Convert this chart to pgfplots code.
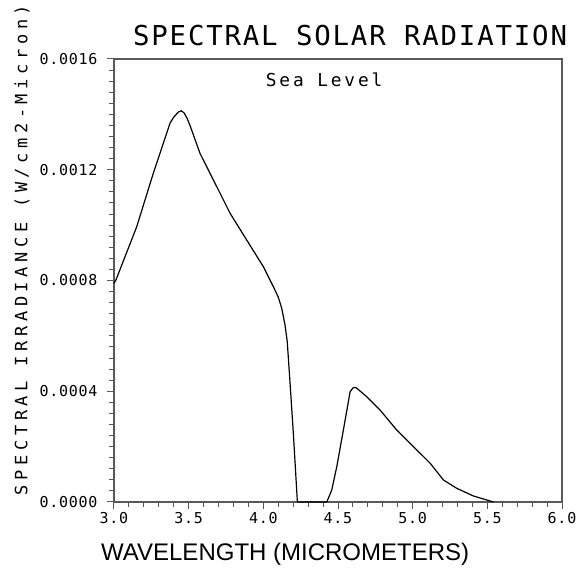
\documentclass[border=0pt]{standalone}
\usepackage{fontspec}
\setmainfont{Liberation Sans}
\newfontfamily\hfont[LetterSpace=6.6]{DejaVu Sans Mono}
\newfontfamily\tickfont[LetterSpace=5]{DejaVu Sans Mono}
\newfontfamily\seafont[LetterSpace=16]{DejaVu Sans Mono}
\newfontfamily\ylabfont[LetterSpace=27]{DejaVu Sans Mono}
\usepackage{pgfplots}
\pgfplotsset{compat=1.18}
\begin{document}
\begin{tikzpicture}
\begin{axis}[
  scale only axis,
  width=448pt, height=443pt,
  xmin=3, xmax=6, ymin=0, ymax=0.0016,
  xtick={3,3.5,4,4.5,5,5.5,6},
  xticklabels={3.0,3.5,4.0,4.5,5.0,5.5,6.0},
  ytick={0,0.0004,0.0008,0.0012,0.0016},
  yticklabels={0.0000,0.0004,0.0008,0.0012,0.0016},
  scaled y ticks=false,
  minor x tick num=4,
  minor y tick num=9,
  xtick pos=bottom, ytick pos=left,
  tick align=outside,
  major tick length=7pt, minor tick length=5pt,
  axis line style={draw=black!65, line width=1.2pt},
  every tick/.style={draw=black!65, line width=1pt},
  xticklabel style={font=\tickfont\fontsize{15}{16}\selectfont},
  yticklabel style={font=\tickfont\fontsize{15}{16}\selectfont, xshift=-6pt},
  clip=false,
]
\addplot[black, line width=1.2pt] coordinates {
(3.000,0.000790) (3.013,0.000802) (3.152,0.000994) (3.263,0.001187)
(3.375,0.001368) (3.400,0.001390) (3.430,0.001408) (3.450,0.001413)
(3.470,0.001405) (3.490,0.001385) (3.509,0.001360) (3.576,0.001259)
(3.688,0.001139) (3.777,0.001043) (3.889,0.000946) (4.000,0.000850)
(4.067,0.000778) (4.100,0.000740) (4.123,0.000700) (4.145,0.000640)
(4.160,0.000580) (4.179,0.000429) (4.201,0.000248) (4.228,0.000000)
(4.425,0.000000) (4.458,0.000043) (4.492,0.000128) (4.536,0.000260)
(4.581,0.000398) (4.600,0.000412) (4.619,0.000414) (4.693,0.000380)
(4.782,0.000332) (4.893,0.000260) (5.005,0.000200) (5.117,0.000140)
(5.206,0.0000795) (5.295,0.0000495) (5.407,0.0000217) (5.541,0.000000)
};
\node[font=\hfont\fontsize{27.4}{30}\selectfont] at (axis description cs:0.527,1.054) {SPECTRAL SOLAR RADIATION};
\node[font=\seafont\fontsize{17.8}{20}\selectfont] at (axis description cs:0.469,0.953) {Sea Level};
\node[font=\ylabfont\fontsize{17}{20}\selectfont, rotate=90] at (axis description cs:-0.205,0.569) {SPECTRAL IRRADIANCE (W/cm2-Micron)};
\node[font=\fontsize{24}{27}\selectfont] at (axis description cs:0.382,-0.117) {WAVELENGTH (MICROMETERS)};
\coordinate (sw) at (axis description cs:0,0);
\end{axis}
\pgfresetboundingbox
\path[use as bounding box] (sw) ++(-114pt,-71pt) rectangle ++(576pt,573pt);
\end{tikzpicture}
\end{document}
